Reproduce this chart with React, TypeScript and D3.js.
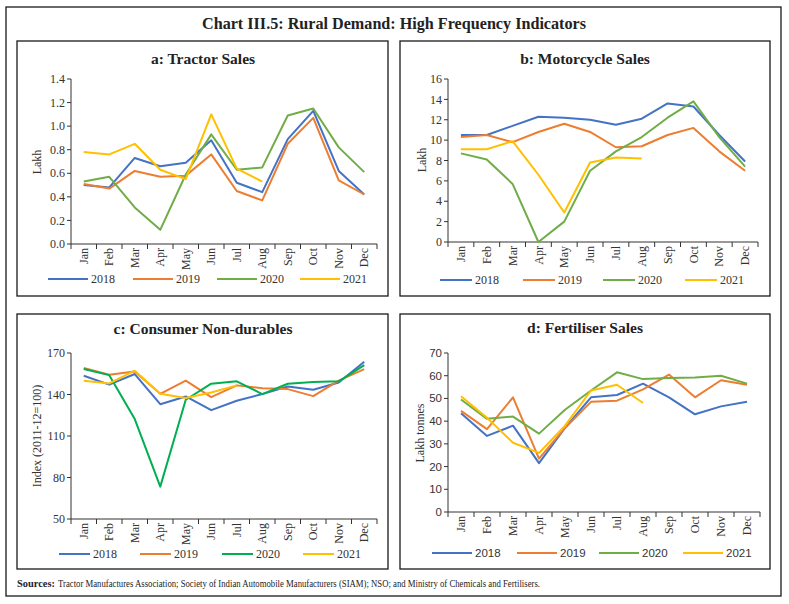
import React from 'react';
import * as d3 from 'd3';

const months = ['Jan', 'Feb', 'Mar', 'Apr', 'May', 'Jun', 'Jul', 'Aug', 'Sep', 'Oct', 'Nov', 'Dec'];
const years = ['2018', '2019', '2020', '2021'];
const colorsStd = ['#4472C4', '#ED7D31', '#70AD47', '#FFC000'];
const colorsC = ['#4472C4', '#ED7D31', '#00B050', '#FFC000'];

// a: Tractor Sales (Lakh)
const tractor2018 = [0.50, 0.48, 0.73, 0.66, 0.69, 0.88, 0.52, 0.44, 0.89, 1.13, 0.62, 0.42];
const tractor2019 = [0.51, 0.47, 0.62, 0.57, 0.58, 0.76, 0.45, 0.37, 0.85, 1.07, 0.54, 0.42];
const tractor2020 = [0.53, 0.57, 0.31, 0.12, 0.59, 0.93, 0.63, 0.65, 1.09, 1.15, 0.82, 0.61];
const tractor2021 = [0.78, 0.76, 0.85, 0.63, 0.55, 1.10, 0.64, 0.53];

// b: Motorcycle Sales (Lakh)
const moto2018 = [10.5, 10.5, 11.4, 12.3, 12.2, 12.0, 11.5, 12.1, 13.6, 13.3, 10.5, 7.9];
const moto2019 = [10.3, 10.5, 9.8, 10.8, 11.6, 10.8, 9.3, 9.4, 10.5, 11.2, 8.9, 7.0];
const moto2020 = [8.7, 8.1, 5.7, 0.0, 2.0, 7.0, 8.9, 10.3, 12.2, 13.8, 10.3, 7.4];
const moto2021 = [9.1, 9.1, 9.9, 6.6, 2.9, 7.8, 8.3, 8.2];

// c: Consumer Non-durables (Index 2011-12=100)
const cnd2018 = [153.6, 147.1, 154.8, 133.0, 138.6, 128.7, 135.5, 140.3, 145.8, 143.4, 148.7, 163.7];
const cnd2019 = [159.1, 154.3, 156.7, 140.5, 150.0, 138.1, 146.6, 144.6, 143.9, 138.8, 150.0, 158.4];
const cnd2020 = [158.4, 154.0, 122.2, 73.4, 136.2, 147.8, 149.5, 140.3, 147.8, 149.0, 149.5, 161.3];
const cnd2021 = [150.0, 148.0, 157.2, 140.5, 137.4, 141.5, 146.6];

// d: Fertiliser Sales (Lakh tonnes)
const fert2018 = [43.5, 33.5, 38.0, 21.5, 37.0, 50.5, 51.5, 56.5, 50.5, 43.0, 46.5, 48.5];
const fert2019 = [44.5, 36.5, 50.5, 23.5, 37.0, 48.5, 49.0, 54.0, 60.5, 50.5, 58.0, 56.0];
const fert2020 = [49.5, 41.0, 42.0, 34.5, 45.0, 53.5, 61.5, 58.5, 59.0, 59.2, 60.0, 56.5];
const fert2021 = [51.0, 41.5, 30.5, 26.0, 38.0, 53.5, 56.0, 48.0];

const yTicksA = [0, 0.2, 0.4, 0.6, 0.8, 1.0, 1.2, 1.4];
const yTicksB = [0, 2, 4, 6, 8, 10, 12, 14, 16];
const yTicksC = [50, 80, 110, 140, 170];
const yTicksD = [0, 10, 20, 30, 40, 50, 60, 70];

const SERIF = '"Liberation Serif", "DejaVu Serif", serif';
const SANS = '"Liberation Sans", Arial, sans-serif';

type PanelProps = {
  box: [number, number, number, number];
  plot: { left: number; right: number; top: number; bottom: number };
  domain: [number, number];
  ticks: number[];
  fmt: (v: number) => string;
  series: number[][];
  colors: string[];
  title: string;
  titlePos: [number, number];
  ylabel: string;
  ylabelPos: [number, number];
  legendY: number;
  legendXs: number[];
  legendLen: number;
  numFont: string;
  numSize: number;
};

function Panel(p: PanelProps) {
  const x = d3.scaleBand<string>().domain(months).range([p.plot.left, p.plot.right]).padding(0);
  const y = d3.scaleLinear().domain(p.domain).range([p.plot.bottom, p.plot.top]);
  const cx = (i: number) => (x(months[i]) as number) + x.bandwidth() / 2;
  const line = d3
    .line<number>()
    .x((_, i) => cx(i))
    .y((d) => y(d));
  const boundaries = months.map((m) => x(m) as number).concat([p.plot.right]);
  const [bx0, by0, bx1, by1] = p.box;
  return (
    <g>
      <rect x={bx0} y={by0} width={bx1 - bx0} height={by1 - by0} fill="none" stroke="#1a1a1a" strokeWidth={1.3} />
      <text x={p.titlePos[0]} y={p.titlePos[1]} textAnchor="middle" fontFamily={SERIF} fontWeight="bold" fontSize={15.5} fill="#222">
        {p.title}
      </text>
      <line x1={p.plot.left} x2={p.plot.left} y1={p.plot.top} y2={p.plot.bottom} stroke="#333" strokeWidth={1} />
      {p.ticks.map((t) => (
        <g key={t}>
          <line x1={p.plot.left - 4} x2={p.plot.left} y1={y(t)} y2={y(t)} stroke="#333" strokeWidth={1} />
          <text x={p.plot.left - 6} y={y(t)} dy="0.35em" textAnchor="end" fontFamily={p.numFont} fontSize={p.numSize} fill="#333">
            {p.fmt(t)}
          </text>
        </g>
      ))}
      <line x1={p.plot.left} x2={p.plot.right} y1={p.plot.bottom} y2={p.plot.bottom} stroke="#333" strokeWidth={1} />
      {boundaries.map((b, i) => (
        <line key={i} x1={b} x2={b} y1={p.plot.bottom} y2={p.plot.bottom + 5} stroke="#333" strokeWidth={1} />
      ))}
      {months.map((m, i) => (
        <text
          key={m}
          transform={`translate(${cx(i)},${p.plot.bottom + 4}) rotate(-90)`}
          dy="0.35em"
          textAnchor="end"
          fontFamily={SERIF}
          fontSize={12}
          fill="#333"
        >
          {m}
        </text>
      ))}
      <text
        transform={`translate(${p.ylabelPos[0]},${p.ylabelPos[1]}) rotate(-90)`}
        textAnchor="middle"
        dy="0.35em"
        fontFamily={SERIF}
        fontSize={12}
        fill="#333"
      >
        {p.ylabel}
      </text>
      {p.series.map((s, k) => (
        <path key={k} d={line(s) as string} fill="none" stroke={p.colors[k]} strokeWidth={2} strokeLinejoin="round" />
      ))}
      {years.map((yr, k) => (
        <g key={yr}>
          <line
            x1={p.legendXs[k]}
            x2={p.legendXs[k] + p.legendLen}
            y1={p.legendY}
            y2={p.legendY}
            stroke={p.colors[k]}
            strokeWidth={2}
          />
          <text x={p.legendXs[k] + p.legendLen + 3} y={p.legendY} dy="0.35em" fontFamily={p.numFont} fontSize={p.numSize} fill="#333">
            {yr}
          </text>
        </g>
      ))}
    </g>
  );
}

export default function App() {
  const f1 = (v: number) => v.toFixed(1);
  const f0 = (v: number) => String(v);
  return (
    <svg width={789} height={604} style={{ position: 'absolute', left: 0, top: 0, background: '#fff' }}>
      <rect x={0} y={0} width={789} height={604} fill="#fff" />
      <rect x={6} y={7} width={775} height={589} fill="none" stroke="#1a1a1a" strokeWidth={1.3} />
      <text
        x={394}
        y={29}
        textAnchor="middle"
        fontFamily={SERIF}
        fontWeight="bold"
        fontSize={16.5}
        fill="#222"
        textLength={384}
        lengthAdjust="spacingAndGlyphs"
      >
        Chart III.5: Rural Demand: High Frequency Indicators
      </text>
      <Panel
        box={[17, 41, 388, 296]}
        plot={{ left: 71, right: 377, top: 79, bottom: 244 }}
        domain={[0, 1.4]}
        ticks={yTicksA}
        fmt={f1}
        series={[tractor2018, tractor2019, tractor2020, tractor2021]}
        colors={colorsStd}
        title="a: Tractor Sales"
        titlePos={[203, 64]}
        ylabel="Lakh"
        ylabelPos={[37, 162]}
        legendY={279}
        legendXs={[48, 133, 217, 300]}
        legendLen={40}
        numFont={SERIF}
        numSize={12}
      />
      <Panel
        box={[400, 41, 770, 296]}
        plot={{ left: 448, right: 758, top: 79, bottom: 242 }}
        domain={[0, 16]}
        ticks={yTicksB}
        fmt={f0}
        series={[moto2018, moto2019, moto2020, moto2021]}
        colors={colorsStd}
        title="b: Motorcycle Sales"
        titlePos={[585, 64]}
        ylabel="Lakh"
        ylabelPos={[422, 160]}
        legendY={280}
        legendXs={[440, 523, 603, 685]}
        legendLen={32}
        numFont={SERIF}
        numSize={12}
      />
      <Panel
        box={[17, 314, 388, 569]}
        plot={{ left: 71, right: 377, top: 353, bottom: 519 }}
        domain={[50, 170]}
        ticks={yTicksC}
        fmt={f0}
        series={[cnd2018, cnd2019, cnd2020, cnd2021]}
        colors={colorsC}
        title="c: Consumer Non-durables"
        titlePos={[203, 334]}
        ylabel="Index (2011-12=100)"
        ylabelPos={[37, 436]}
        legendY={554}
        legendXs={[59, 140, 222, 303]}
        legendLen={31}
        numFont={SERIF}
        numSize={12}
      />
      <Panel
        box={[400, 314, 770, 569]}
        plot={{ left: 448, right: 760, top: 353, bottom: 512 }}
        domain={[0, 70]}
        ticks={yTicksD}
        fmt={f0}
        series={[fert2018, fert2019, fert2020, fert2021]}
        colors={colorsStd}
        title="d: Fertiliser Sales"
        titlePos={[585, 333]}
        ylabel="Lakh tonnes"
        ylabelPos={[420, 433]}
        legendY={553}
        legendXs={[432, 517, 599, 683]}
        legendLen={40}
        numFont={SANS}
        numSize={11.5}
      />
      <text x={17} y={587} fontFamily={SERIF} fontSize={10.5} fontWeight="bold" fill="#222" textLength={38} lengthAdjust="spacingAndGlyphs">
        Sources:
      </text>
      <text x={58} y={587} fontFamily={SERIF} fontSize={10.5} fill="#222" textLength={482} lengthAdjust="spacingAndGlyphs">
        Tractor Manufactures Association; Society of Indian Automobile Manufacturers (SIAM); NSO; and Ministry of Chemicals and Fertilisers.
      </text>
    </svg>
  );
}
